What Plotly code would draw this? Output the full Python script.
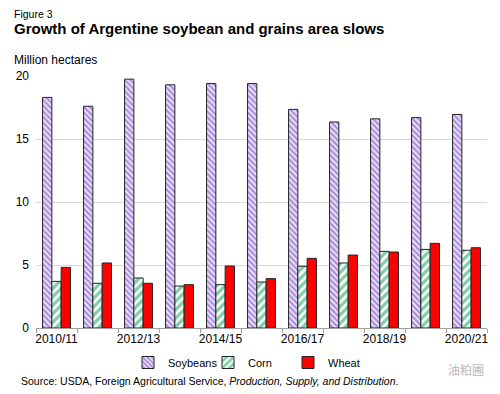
import plotly.graph_objects as go

categories = ["2010/11", "2011/12", "2012/13", "2013/14", "2014/15", "2015/16",
              "2016/17", "2017/18", "2018/19", "2019/20", "2020/21"]
soybeans = [18.3, 17.6, 19.75, 19.3, 19.4, 19.4, 17.35, 16.35, 16.6, 16.7, 16.95]
corn = [3.7, 3.55, 3.97, 3.33, 3.44, 3.65, 4.9, 5.16, 6.08, 6.24, 6.17]
wheat = [4.81, 5.16, 3.55, 3.44, 4.92, 3.92, 5.53, 5.79, 6.03, 6.72, 6.37]
tick_text = [c if i % 2 == 0 else "" for i, c in enumerate(categories)]

FONT = "Arial, Liberation Sans, sans-serif"
W, H = 500, 394
OFF = 8  # page body margin offset
# target page-pixel positions of the plot area
PL, PR, PT, PB = 36, 487, 76, 328
ML = PL - OFF
MT = PT - OFF
MR = W - (PR - OFF)
MB = H - (PB - OFF)

fig = go.Figure()
fig.add_trace(go.Bar(
    name="Soybeans", x=categories, y=soybeans,
    marker=dict(color="white", line=dict(color="#222222", width=1),
                pattern=dict(shape="\\", fgcolor="#6230C0", bgcolor="#F4EEFC",
                             size=4, solidity=0.6)),
))
fig.add_trace(go.Bar(
    name="Corn", x=categories, y=corn,
    marker=dict(color="white", line=dict(color="#222222", width=1),
                pattern=dict(shape="/", fgcolor="#00A050", bgcolor="white",
                             size=6, solidity=0.55)),
))
fig.add_trace(go.Bar(
    name="Wheat", x=categories, y=wheat,
    marker=dict(color="#FF0000", line=dict(color="#222222", width=1)),
))

plot_w = W - ML - MR
plot_h = H - MT - MB


def px_to_paper(px, py):
    """page pixel -> paper coordinates"""
    fx, fy = px - OFF, py - OFF
    return (fx - ML) / plot_w, (H - MB - fy) / plot_h


lx, ly = px_to_paper(128, 348)

fig.update_layout(
    width=W, height=H,
    margin=dict(l=ML, r=MR, t=MT, b=MB, autoexpand=False),
    paper_bgcolor="white", plot_bgcolor="white",
    barmode="group", bargap=0.32, bargroupgap=0,
    font=dict(family=FONT, size=12, color="#000000"),
    showlegend=True,
    legend=dict(orientation="h", x=lx, xanchor="left", y=ly, yanchor="top",
                font=dict(size=11, color="#000000"), itemwidth=30,
                entrywidth=35, entrywidthmode="pixels",
                tracegroupgap=0, traceorder="normal"),
    xaxis=dict(
        type="category", tickmode="array", tickvals=categories, ticktext=tick_text,
        tickson="boundaries", ticks="outside", ticklen=4, tickcolor="#A0A0A0",
        showline=True, linecolor="#A0A0A0", linewidth=1, tickangle=0,
        showgrid=False, tickfont=dict(size=12, color="#000000"), automargin=False,
    ),
    yaxis=dict(
        range=[0, 20], tickvals=[0, 5, 10, 15, 20], showgrid=True,
        gridcolor="#D9D9D9", gridwidth=1, zeroline=False, showline=False,
        ticks="", tickfont=dict(size=12, color="#000000"), ticklabelstandoff=6,
        automargin=False,
    ),
)

ann = [
    dict(text="Figure 3", px=12, py=6, size=10.5),
    dict(text="<b>Growth of Argentine soybean and grains area slows</b>", px=12, py=18, size=15),
    dict(text="Million hectares", px=12, py=51, size=12),
    dict(text="Source: USDA, Foreign Agricultural Service, <i>Production, Supply, and Distribution</i>.",
         px=19, py=373, size=10.5),
]
for a in ann:
    x, y = px_to_paper(a["px"], a["py"])
    fig.add_annotation(text=a["text"], x=x, y=y, xref="paper", yref="paper",
                       xanchor="left", yanchor="top", showarrow=False,
                       font=dict(size=a["size"], family=FONT, color="#000000"))

wx, wy = px_to_paper(486, 359)
fig.add_annotation(text="油粕圃", x=wx, y=wy, xref="paper", yref="paper",
                   xanchor="right", yanchor="top", showarrow=False,
                   font=dict(size=12, family="Noto Sans CJK SC", color="#B8B8B8"))

fig.write_html("out.html")
